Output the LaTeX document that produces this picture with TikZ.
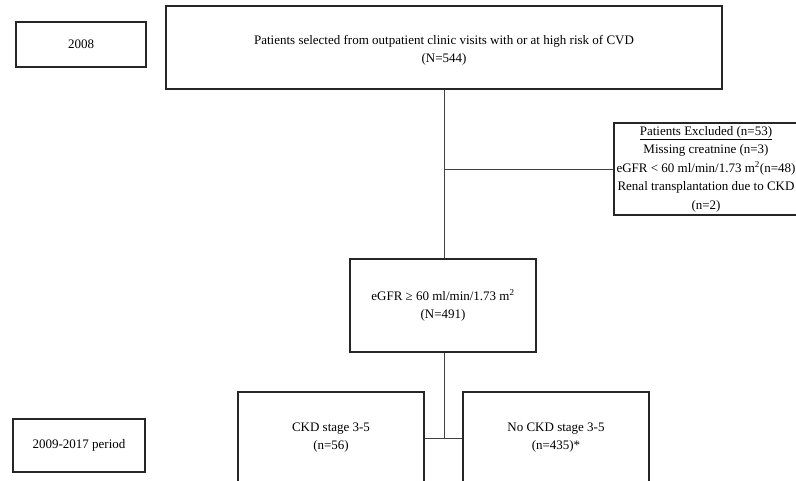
\documentclass[tikz,border=0pt]{standalone}
\usepackage{fontspec}
\setmainfont{Liberation Serif}
\begin{document}
\begin{tikzpicture}[x=1pt,y=-1pt,
  every node/.style={font=\fontsize{13}{18.5}\selectfont, align=center, inner sep=0pt},
  box/.style={draw=black!85, line width=1.4pt, minimum width=#1},
  conn/.style={draw=black!75, line width=1pt}]
\useasboundingbox (0,0) rectangle (796,480);
% year boxes
\node[box=130pt, minimum height=45pt] (y2008) at (81,44.5) {2008};
\node[box=132pt, minimum height=53pt] (y2009) at (79,445.5) {2009-2017 period};
% main flow
\node[box=556pt, minimum height=83pt] (top) at (444,47.5) {};
\node (topt) at (444,50.5) {Patients selected from outpatient clinic visits with or at high risk of CVD\\(N=544)};
\node[box=184pt, minimum height=92pt] (excl) at (706,169) {\underline{Patients Excluded (n=53)}\\Missing creatnine (n=3)\\eGFR < 60 ml/min/1.73 m\textsuperscript{2}(n=48)\\Renal transplantation due to CKD\\(n=2)};
\node[box=186pt, minimum height=93pt] (egfr) at (443,305.5) {eGFR ≥ 60 ml/min/1.73 m\textsuperscript{2}\\(N=491)};
\node[box=186pt, minimum height=98pt] (ckd) at (331,441) {};
\node (ckdt) at (331,437.5) {CKD stage 3-5\\(n=56)};
\node[box=186pt, minimum height=98pt] (nockd) at (556,441) {};
\node (nockdt) at (556,437.5) {No CKD stage 3-5\\(n=435)*};
% connectors
\coordinate (j1) at (444,169);
\coordinate (j2) at (444,438);
\draw[conn] (top.south) -- (egfr.north -| top.south);
\draw[conn] (j1) -- (excl.west);
\draw[conn] (egfr.south -| j2) -- (j2);
\draw[conn] (ckd.east |- j2) -- (nockd.west |- j2);
\end{tikzpicture}
\end{document}
